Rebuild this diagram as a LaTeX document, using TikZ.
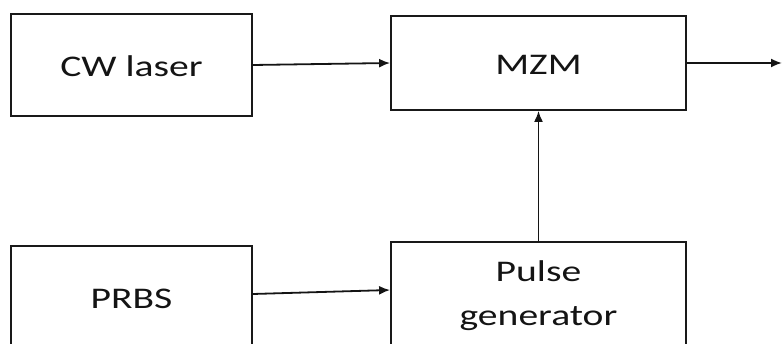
\documentclass[tikz,border=0pt]{standalone}
\usepackage{fontspec}
\setmainfont{Carlito}
\usetikzlibrary{arrows.meta}
\begin{document}
\begin{tikzpicture}[x=1pt,y=-1pt,
  box/.style={draw=black!90,line width=1.8pt,rectangle,inner sep=0pt},
  lbl/.style={anchor=base,inner sep=0pt,text=black!92,font=\fontsize{30}{44}\selectfont},
  conn/.style={draw=black!92,line width=1.8pt,-{Latex[length=11pt,width=9pt]}}]
\useasboundingbox (0,0) rectangle (782,344);
\clip (0,0) rectangle (782,344);
\node[box,minimum width=241pt,minimum height=102pt] (cw) at (131.5,65) {};
\node[box,minimum width=295pt,minimum height=94pt] (mzm) at (538.5,63) {};
\node[box,minimum width=241pt,minimum height=108pt] (prbs) at (131.5,300) {};
\node[box,minimum width=295pt,minimum height=104pt] (pulse) at (538.5,294) {};
\node[lbl] (cwt) at (131.5,77) {\scalebox{1.32}[1]{CW laser}};
\node[lbl] (mzmt) at (538.5,75) {\scalebox{1.32}[1]{MZM}};
\node[lbl] (prbst) at (131.5,309) {\scalebox{1.32}[1]{PRBS}};
\node[lbl] (pt1) at (538.5,282) {\scalebox{1.32}[1]{Pulse}};
\node[lbl] (pt2) at (538.5,326) {\scalebox{1.32}[1]{generator}};
\coordinate (out) at (782,63);
\draw[conn] (cw.east) -- (mzm.west);
\draw[conn] (mzm.east) -- (out);
\draw[conn] (pulse.north) -- (mzm.south);
\draw[conn] ([yshift=6pt]prbs.east) -- ([yshift=4pt]pulse.west);
\end{tikzpicture}
\end{document}
